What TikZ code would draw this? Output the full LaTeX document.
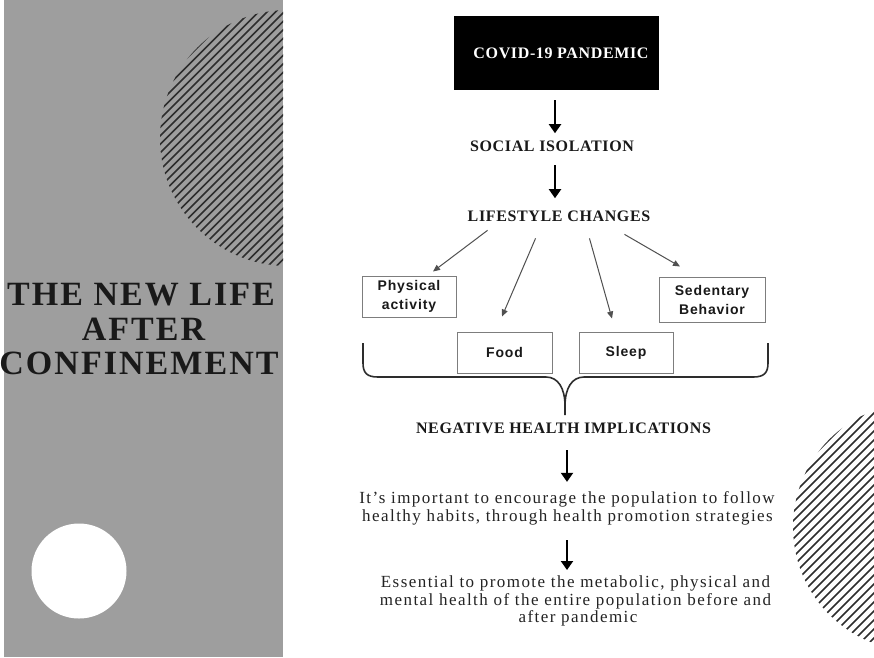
\documentclass[tikz,border=0pt]{standalone}
\usepackage{fontspec}
\setmainfont{Liberation Serif}
\newfontfamily\boxfont{Liberation Sans}
\usetikzlibrary{arrows.meta,calc}
\definecolor{panelgray}{RGB}{158,158,158}
\definecolor{hatchdark}{RGB}{45,45,45}
\definecolor{ink}{RGB}{25,25,25}
\definecolor{bodyink}{RGB}{35,35,35}
\definecolor{boxline}{RGB}{125,125,125}
\definecolor{thinarrow}{RGB}{80,80,80}
\begin{document}
\begin{tikzpicture}[x=1pt,y=-1pt,
  titletext/.style={font=\fontsize{34}{34}\selectfont\bfseries\addfontfeature{LetterSpace=6}, text=ink, anchor=base, inner sep=0pt},
  headtext/.style={font=\fontsize{16}{16}\selectfont\bfseries\addfontfeature{LetterSpace=4}, text=ink, anchor=base, inner sep=0pt},
  bodytext/.style={font=\fontsize{17}{17}\selectfont\addfontfeature{LetterSpace=8.5}, text=bodyink, anchor=base, inner sep=0pt},
  factorbox/.style={draw=boxline, line width=1pt, fill=white, align=center, text=ink,
     font=\fontsize{14}{19}\selectfont\boxfont\bfseries\addfontfeature{LetterSpace=6}, inner sep=0pt},
  bigarrow/.style={line width=2pt, draw=black, -{Triangle[width=12pt,length=9pt]}},
  thinarrowstyle/.style={line width=1pt, draw=thinarrow, -{Triangle[width=6pt,length=7pt]}},
  hatchline/.style={line width=1.5pt, draw=hatchdark},
  bracestyle/.style={line width=1.6pt, draw=hatchdark}
]
\useasboundingbox (0,0) rectangle (874,657);
\fill[white] (0,0) rectangle (874,657);
% left panel
\fill[panelgray] (4,0) rectangle (283,657);
\begin{scope}
  \clip (4,0) rectangle (283,657);
  \clip (288,138) circle (128pt);
  \foreach \c in {245,253.5,...,615} {
    \draw[hatchline] (140,\c-140) -- (430,\c-430);
  }
\end{scope}
\fill[white] (79,571) circle (47.5pt);
% bottom right hatched disc
\begin{scope}
  \clip (0,0) rectangle (874,657);
  \clip (917,527) circle (124pt);
  \foreach \c in {1269,1278,...,1630} {
    \draw[hatchline] (770,\c-770) -- (900,\c-900);
  }
\end{scope}
% title
\node[titletext] (t1) at (141,305) {THE NEW LIFE};
\node[titletext] (t2) at (143.5,340) {AFTER};
\node[titletext] (t3) at (139,374) {CONFINEMENT};
% flowchart
\node[fill=black, minimum width=205pt, minimum height=74pt, inner sep=0pt,
      font=\fontsize{16}{16}\selectfont\bfseries\addfontfeature{LetterSpace=4}, text=white]
      (covid) at (556.5,53) {\hspace*{9pt}COVID-19 PANDEMIC};
\node[headtext] (social) at (552,151) {SOCIAL ISOLATION};
\node[headtext] (life) at (559,221) {LIFESTYLE CHANGES};
\node[factorbox, minimum width=94pt, minimum height=41pt] (phys) at (409,296.5) {Physical\\activity};
\node[factorbox, minimum width=106pt, minimum height=45pt] (sed) at (712,299.5) {Sedentary\\Behavior};
\node[factorbox, minimum width=95pt, minimum height=41pt] (food) at (504.5,352.5) {Food};
\node[factorbox, minimum width=94pt, minimum height=41pt] (sleep) at (626,352.5) {Sleep};
\node[headtext] (neg) at (563.5,433) {NEGATIVE HEALTH IMPLICATIONS};
\node[bodytext] (p1a) at (567,503) {It’s important to encourage the population to follow};
\node[bodytext] (p1b) at (567.5,521.5) {healthy habits, through health promotion strategies};
\node[bodytext] (p2a) at (575.5,587) {Essential to promote the metabolic, physical and};
\node[bodytext] (p2b) at (575.5,605) {mental health of the entire population before and};
\node[bodytext] (p2c) at (578,622.5) {after pandemic};
% vertical arrows
\draw[bigarrow] ($(covid.south)+(-1.5,10)$) -- ($(covid.south |- social.north)+(-1.5,-7)$);
\draw[bigarrow] ($(covid.south |- social.south)+(-1.5,14)$) -- ($(covid.south |- life.north)+(-1.5,-12)$);
\draw[bigarrow] ($(neg.south)+(3.5,17)$) -- ($(neg.south |- p1a.north)+(3.5,-9)$);
\draw[bigarrow] ($(neg.south |- p1b.south)+(3.5,15)$) -- ($(neg.south |- p2a.north)+(3.5,-5)$);
% diagonal arrows
\draw[thinarrowstyle] ($(life.south west)+(20,9)$) -- ($(phys.north)+(24,-4)$);
\draw[thinarrowstyle] ($(life.south west)+(68,17)$) -- ($(food.north)+(-2.5,-15)$);
\draw[thinarrowstyle] ($(life.south east)+(-61,17)$) -- ($(sleep.north)+(-14,-13)$);
\draw[thinarrowstyle] ($(life.south east)+(-26,13)$) -- ($(sed.north)+(-32,-10)$);
% brace
\draw[bracestyle, line join=round]
  (363,343) -- (363,363) .. controls (363,373) and (367,377) .. (378,377)
  -- (546,377) .. controls (558,377) and (565,388) .. (565,406) -- (565,415);
\draw[bracestyle, line join=round]
  (768,343) -- (768,363) .. controls (768,373) and (764,377) .. (753,377)
  -- (584,377) .. controls (572,377) and (565,388) .. (565,406);
\end{tikzpicture}
\end{document}
